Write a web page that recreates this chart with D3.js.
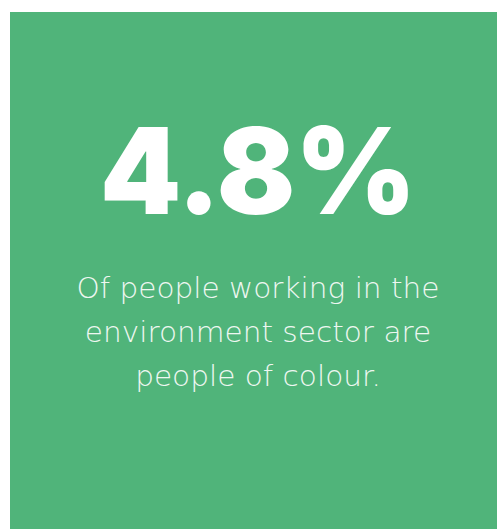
<!DOCTYPE html>
<html><head><meta charset="utf-8">
<script src="https://cdn.jsdelivr.net/npm/d3@7"></script>
<style>html,body{margin:0;padding:0;background:#fff;}svg{display:block;}</style>
</head><body>
<script>
const statValues = [4.8];
const statUnits = ["%"];
const captionLines = ["Of people working in the", "environment sector are", "people of colour."];

const W = 497, H = 529;
const svg = d3.select("body").append("svg").attr("width", W).attr("height", H);
svg.append("rect").attr("x", 10).attr("y", 12).attr("width", W - 10).attr("height", H - 12).attr("fill", "#50b47a");

const cx = 258;
svg.selectAll("text.stat").data(statValues).join("text")
  .attr("class", "stat")
  .attr("x", cx).attr("y", 214)
  .attr("text-anchor", "middle")
  .attr("fill", "#ffffff")
  .style("font-family", "Inter, 'Open Sans', sans-serif")
  .style("font-weight", 900)
  .style("font-size", "120px")
  .attr("textLength", 316)
  .attr("lengthAdjust", "spacingAndGlyphs")
  .text((d, i) => d3.format(".1f")(d) + statUnits[i]);

const y = d3.scalePoint().domain(d3.range(captionLines.length)).range([298, 386]);
const caps = svg.selectAll("text.cap").data(captionLines).join("text")
  .attr("class", "cap")
  .attr("x", cx).attr("y", (d, i) => y(i))
  .attr("text-anchor", "middle")
  .attr("fill", "#eef7f1")
  .style("font-family", "'DejaVu Sans', sans-serif")
  .style("font-weight", 200)
  .style("font-size", "28px")
  .text(d => d);
// scale caption width so the first line spans ~363px like the reference
const w0 = caps.node().getComputedTextLength();
const k = 363 / w0;
caps.each(function() {
  const w = this.getComputedTextLength();
  d3.select(this).attr("textLength", w * k).attr("lengthAdjust", "spacingAndGlyphs");
});
</script>
</body></html>
